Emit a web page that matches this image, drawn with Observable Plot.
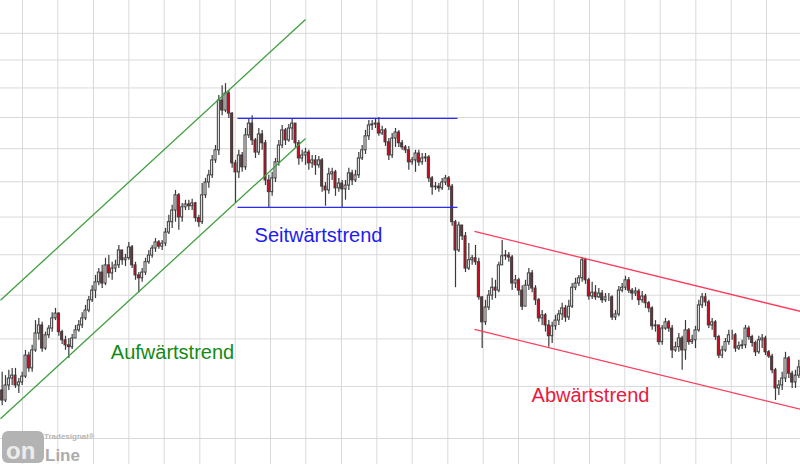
<!DOCTYPE html>
<html>
<head>
<meta charset="utf-8">
<script src="https://cdn.jsdelivr.net/npm/d3@7"></script>
<script src="https://cdn.jsdelivr.net/npm/@observablehq/plot@0.6"></script>
<style>
  html, body { margin: 0; padding: 0; background: #fff; }
  #wrap { position: relative; width: 800px; height: 464px; overflow: hidden; }
  #logo { position: absolute; left: 0; top: 0; pointer-events: none; }
</style>
</head>
<body>
<div id="wrap"></div>
<script>
// ---- Data ----
const firstOpen = 10.92;
const closes = [10.72,11.02,11.16,11.22,11.02,11.08,11.20,11.64,11.37,11.75,
12.12,12.30,11.79,12.08,12.23,12.46,12.57,12.15,11.97,11.86,
11.82,12.01,12.19,12.30,12.46,12.64,12.88,13.11,13.31,13.55,
13.28,13.73,13.53,13.65,13.73,14.11,13.86,13.91,14.19,13.73,
13.48,13.41,13.55,13.81,13.98,14.16,14.32,14.21,14.29,14.58,
14.86,15.18,15.61,14.99,15.27,15.35,15.30,15.38,14.97,14.86,
15.61,15.98,16.19,16.64,16.95,18.57,18.23,18.81,18.13,16.55,
16.28,16.79,16.43,17.42,17.80,17.26,16.88,17.45,17.17,16.04,
15.70,16.10,16.58,17.10,17.58,17.26,17.64,17.80,17.17,16.70,
16.79,16.88,16.55,16.64,16.49,16.64,15.86,15.75,16.22,16.28,
15.81,15.95,15.78,15.89,16.25,16.04,16.19,16.70,16.95,17.39,
17.74,17.77,17.80,17.48,17.58,17.20,16.79,17.32,17.51,17.17,
17.04,16.95,16.58,16.64,16.85,16.58,16.70,16.73,16.10,15.84,
15.86,15.81,15.98,16.10,15.86,14.86,14.11,14.77,14.48,13.65,
13.86,13.91,13.81,12.95,12.37,12.71,12.99,13.18,13.11,13.73,
13.96,13.98,13.93,13.28,13.36,13.11,12.73,13.23,13.53,13.16,
12.88,12.46,12.53,12.30,12.06,12.28,12.41,12.55,12.69,12.48,
12.73,13.18,13.28,13.41,13.86,13.36,12.97,13.06,12.95,13.04,
12.88,12.95,12.95,12.48,12.55,13.11,13.18,13.36,13.11,13.04,
13.09,12.88,12.97,12.81,12.69,12.28,12.30,11.93,12.23,12.37,
12.23,11.75,11.82,12.01,11.75,12.19,11.93,11.97,12.19,12.76,
12.95,12.83,12.30,12.37,12.04,11.64,11.75,11.93,12.08,12.08,
11.79,11.84,11.86,12.23,12.04,11.91,11.71,11.97,12.01,11.71,
11.62,11.33,10.96,11.02,11.16,11.58,11.26,11.08,11.22,11.39];
const highs = [11.29,11.22,11.33,11.37,11.37,11.16,11.29,11.75,11.71,11.86,
12.41,12.46,12.37,12.15,12.30,12.59,12.69,12.59,12.19,12.06,
12.01,12.10,12.30,12.41,12.59,12.76,12.97,13.23,13.48,13.65,
13.73,13.91,13.98,13.81,13.86,14.24,14.11,14.01,14.32,14.24,
13.81,13.55,13.65,13.91,14.11,14.24,14.42,14.37,14.37,14.69,
15.05,15.33,15.75,15.66,15.38,15.47,15.47,15.50,15.41,15.05,
15.95,16.10,16.34,16.79,17.10,18.74,19.08,19.15,18.91,18.16,
16.64,16.95,16.88,17.64,17.97,18.06,17.32,17.64,17.58,17.26,
16.19,16.28,16.70,17.26,17.74,17.64,17.77,17.97,17.74,17.26,
16.95,17.01,16.95,16.79,16.79,16.76,16.70,15.98,16.40,16.40,
16.34,16.10,16.04,16.04,16.40,16.34,16.34,16.88,17.10,17.58,
17.90,17.90,17.97,18.00,17.71,17.64,17.32,17.48,17.64,17.58,
17.26,17.10,17.07,16.73,16.95,16.95,16.85,16.85,16.79,16.16,
15.98,15.95,16.10,16.19,16.16,15.92,14.91,14.86,14.69,14.58,
14.29,13.98,14.24,13.91,12.95,12.88,13.11,13.41,13.36,13.81,
14.37,14.11,14.06,13.98,13.48,13.41,13.23,13.36,13.65,13.60,
13.23,12.92,12.64,12.57,12.41,12.37,12.53,12.64,12.81,12.76,
12.88,13.28,13.41,13.48,13.93,13.91,13.41,13.31,13.23,13.16,
13.11,13.04,13.04,12.99,12.64,13.21,13.28,13.46,13.43,13.16,
13.18,13.14,13.09,13.02,12.85,12.73,12.41,12.30,12.30,12.46,
12.41,12.30,11.93,12.12,12.06,12.41,12.23,12.08,12.28,12.88,
13.04,13.04,12.88,12.46,12.41,12.08,11.84,12.01,12.19,12.19,
12.12,11.93,11.97,12.30,12.28,12.08,11.95,12.06,12.10,12.06,
11.75,11.67,11.37,11.12,11.29,11.71,11.62,11.31,11.33,11.54];
const lows = [10.62,10.68,10.92,11.02,10.96,10.86,11.02,11.16,11.29,11.29,
11.71,11.97,11.71,11.75,12.01,12.15,12.41,12.06,11.88,11.75,
11.58,11.77,12.01,12.15,12.23,12.41,12.59,12.83,12.92,13.23,
13.16,13.23,13.41,13.36,13.55,13.65,13.73,13.70,13.86,13.65,
13.36,13.06,13.31,13.48,13.76,13.91,14.06,14.14,14.11,14.21,
14.53,14.69,14.86,14.64,14.86,15.18,15.18,15.18,14.86,14.72,
14.80,15.52,15.81,16.10,16.55,16.79,18.06,18.16,17.97,16.40,
15.38,16.10,16.28,16.34,17.32,17.10,16.70,16.79,16.95,15.89,
15.24,15.58,15.98,16.46,17.01,17.10,17.20,17.26,17.01,16.49,
16.58,16.49,16.34,16.40,16.19,16.40,15.70,15.30,15.64,16.04,
15.58,15.70,15.24,15.47,15.75,15.89,15.98,16.10,16.64,16.82,
17.26,17.58,17.64,17.39,17.42,17.07,16.64,16.70,17.04,17.04,
16.95,16.85,16.34,16.49,16.28,16.46,16.49,16.58,15.98,15.61,
15.75,15.70,15.75,15.89,15.75,14.75,13.18,14.06,14.37,13.55,
13.60,13.73,13.73,12.88,11.79,12.30,12.64,12.88,12.92,13.06,
13.73,13.86,13.81,13.11,13.16,12.99,12.64,12.81,13.11,13.06,
12.76,12.37,12.30,12.15,11.82,11.90,12.19,12.30,12.41,12.37,
12.41,12.69,13.11,13.21,13.31,13.26,12.88,12.90,12.88,12.92,
12.81,12.83,12.85,12.41,12.41,12.50,13.06,13.11,13.04,12.88,
12.97,12.76,12.81,12.69,12.59,12.19,12.15,11.86,11.86,12.19,
12.15,11.58,11.71,11.71,11.33,11.54,11.86,11.88,11.79,12.15,
12.69,12.73,12.23,12.19,11.97,11.58,11.58,11.71,11.86,11.97,
11.71,11.75,11.77,11.79,11.97,11.82,11.62,11.67,11.79,11.64,
11.58,11.26,10.72,10.82,10.92,11.08,11.16,10.96,10.96,11.16];

// Price grid values and time grid (bar index) values
const priceGrid = [10,11,12,13,14,15,16,17,18,19,20,21];
const timeGrid = [6.6,17.2,27.9,38.5,49.1,59.8,70.4,81.0,91.6,102.3,112.9,123.5,134.2,144.8,155.4,166.1,176.7,187.3,197.9,208.6,219.2,229.8];

// Trend lines: [x1, y1, x2, y2] in bar index / price
const trendNames = ["up", "up", "side", "side", "down", "down"];
const trendX1 = [0, 0, 71.1, 71.1, 142.2, 142.2];
const trendY1 = [12.88, 10.37, 17.97, 15.27, 14.61, 12.21];
const trendX2 = [91.5, 91.5, 137.1, 137.1, 240, 240];
const trendY2 = [21.54, 17.32, 17.97, 15.27, 12.62, 10.55];

const labels = ["Aufwärtstrend", "Seitwärtstrend", "Abwärtstrend"];
const labelX = [51.6, 95.4, 177];
const labelY = [11.71, 14.50, 10.82];

// ---- Build tables ----
const bars = closes.map((c, i) => {
  const o = i === 0 ? firstOpen : closes[i - 1];
  return {i, open: o, close: c, high: Math.max(highs[i], o, c), low: Math.min(lows[i], o, c), up: c >= o};
});
const trends = trendNames.map((n, k) => ({n, x1: trendX1[k], y1: trendY1[k], x2: trendX2[k], y2: trendY2[k]}));
const labs = labels.map((t, k) => ({t, x: labelX[k], y: labelY[k]}));
const trendColor = {up: "#3f9f3f", side: "#2a2aff", down: "#ff3b5c"};
const labelColor = ["#148a14", "#1c1cf0", "#ea1840"];

const chart = Plot.plot({
  width: 800,
  height: 464,
  margin: 0,
  x: {domain: [0, 240], axis: null},
  y: {type: "log", domain: [9.535, 22.3], axis: null},
  style: {background: "#fff"},
  marks: [
    Plot.gridY(priceGrid, {stroke: "#d9d9d9", strokeOpacity: 1, strokeWidth: 1}),
    Plot.gridX(timeGrid, {stroke: "#d9d9d9", strokeOpacity: 1, strokeWidth: 1}),
    Plot.ruleX(bars, {x: d => d.i + 0.5, y1: "low", y2: "high", stroke: "#3a3a3a", strokeWidth: 1.2}),
    Plot.rect(bars, {
      x1: d => d.i + 0.2, x2: d => d.i + 0.8,
      y1: "open", y2: "close",
      fill: d => d.up ? "#ffffff" : "#e8001c",
      stroke: "#3a3a3a", strokeWidth: 1
    }),
    Plot.link(trends, {x1: "x1", y1: "y1", x2: "x2", y2: "y2", stroke: d => trendColor[d.n], strokeWidth: 1.3}),
    Plot.text(labs, {x: "x", y: "y", text: "t", fill: (d, k) => labelColor[k], fontSize: 20,
      fontFamily: "Liberation Sans, Arial, sans-serif", textAnchor: "middle", lineAnchor: "middle"})
  ]
});
const wrap = document.getElementById("wrap");
wrap.appendChild(chart);

// Tradesignal online logo overlay
const ns = "http://www.w3.org/2000/svg";
const logo = document.createElementNS(ns, "svg");
logo.setAttribute("id", "logo");
logo.setAttribute("width", 800);
logo.setAttribute("height", 464);
logo.innerHTML = `
  <rect x="2" y="431" width="42" height="32" rx="6" fill="#b3b3b3"/>
  <text x="6" y="459" font-family="Liberation Sans, Arial" font-weight="bold" font-size="24" fill="#ececec">on</text>
  <text x="45" y="461" font-family="Liberation Sans, Arial" font-weight="bold" font-size="17" fill="#ababab">Line</text>
  <text x="44" y="439" font-family="Liberation Sans, Arial" font-weight="bold" font-size="8" fill="#b5b5b5">Tradesignal®</text>`;
wrap.appendChild(logo);
</script>
</body>
</html>
